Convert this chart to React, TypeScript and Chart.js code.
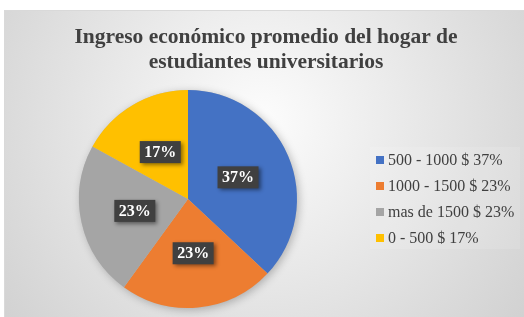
import React, { useEffect, useRef } from "react";
import { Chart, registerables } from "chart.js";

Chart.register(...registerables);

const titleLines = ["Ingreso económico promedio del hogar de", "estudiantes universitarios"];
const categories = ["500 - 1000 $", "1000 - 1500 $", "mas de 1500 $", "0 - 500 $"];
const values = [37, 23, 23, 17];
const colors = ["#4472C4", "#ED7D31", "#A5A5A5", "#FFC000"];

const SERIF = '"Liberation Serif", "Times New Roman", serif';

const decorPlugin = {
  id: "decor",
  beforeDraw(chart: any) {
    const ctx = chart.ctx as CanvasRenderingContext2D;
    const w = chart.width;
    const h = chart.height;
    ctx.save();
    ctx.fillStyle = "#ffffff";
    ctx.fillRect(0, 0, w, h);
    const g = ctx.createRadialGradient(262, 120, 10, 262, 120, 360);
    g.addColorStop(0, "#fbfbfb");
    g.addColorStop(1, "#cdcdcd");
    ctx.fillStyle = g;
    ctx.fillRect(4, 10, w - 4, h - 10);
    ctx.strokeStyle = "#d9d9d9";
    ctx.lineWidth = 1;
    ctx.strokeRect(4.5, 10.5, w - 4, h - 10);
    // title
    ctx.fillStyle = "#404040";
    ctx.font = `bold 21.5px ${SERIF}`;
    ctx.textAlign = "center";
    ctx.textBaseline = "middle";
    ctx.fillText(titleLines[0], 266, 37);
    ctx.fillText(titleLines[1], 266, 62);
    // legend
    const lx = 376;
    const ly0 = 160;
    const step = 26;
    ctx.fillStyle = "rgba(255,255,255,0.12)";
    ctx.fillRect(370, 147, 150, 102);
    ctx.font = `16px ${SERIF}`;
    ctx.textAlign = "left";
    const total = values.reduce((a, b) => a + b, 0);
    categories.forEach((c, i) => {
      const y = ly0 + i * step;
      ctx.fillStyle = colors[i];
      ctx.fillRect(lx, y - 4, 8, 8);
      ctx.fillStyle = "#404040";
      ctx.fillText(`${c} ${Math.round((values[i] / total) * 100)}%`, lx + 12, y + 1);
    });
    ctx.restore();
  },
  beforeDatasetsDraw(chart: any) {
    const ctx = chart.ctx as CanvasRenderingContext2D;
    ctx.save();
    ctx.shadowColor = "rgba(0,0,0,0.25)";
    ctx.shadowBlur = 8;
    ctx.shadowOffsetX = 2;
    ctx.shadowOffsetY = 2;
    const meta = chart.getDatasetMeta(0);
    const arc = meta.data[0];
    if (arc) {
      ctx.fillStyle = "#bbbbbb";
      ctx.beginPath();
      ctx.arc(arc.x, arc.y, arc.outerRadius, 0, Math.PI * 2);
      ctx.fill();
    }
    ctx.restore();
  },
  afterDatasetsDraw(chart: any) {
    const ctx = chart.ctx as CanvasRenderingContext2D;
    const meta = chart.getDatasetMeta(0);
    const total = values.reduce((a, b) => a + b, 0);
    ctx.save();
    ctx.font = `bold 16px ${SERIF}`;
    ctx.textAlign = "center";
    ctx.textBaseline = "middle";
    meta.data.forEach((arc: any, i: number) => {
      const mid = (arc.startAngle + arc.endAngle) / 2;
      const r = arc.outerRadius * 0.5;
      const x = arc.x + Math.cos(mid) * r;
      const y = arc.y + Math.sin(mid) * r;
      const txt = `${Math.round((values[i] / total) * 100)}%`;
      const tw = ctx.measureText(txt).width;
      const bw = tw + 9;
      const bh = 22;
      ctx.save();
      ctx.shadowColor = "rgba(0,0,0,0.45)";
      ctx.shadowBlur = 4;
      ctx.shadowOffsetX = 2;
      ctx.shadowOffsetY = 2;
      ctx.fillStyle = "#404040";
      ctx.fillRect(x - bw / 2, y - bh / 2, bw, bh);
      ctx.restore();
      ctx.fillStyle = "#ffffff";
      ctx.fillText(txt, x, y + 1);
    });
    ctx.restore();
  },
};

export default function App() {
  const ref = useRef<HTMLCanvasElement>(null);
  useEffect(() => {
    if (!ref.current) return;
    const chart = new Chart(ref.current, {
      type: "pie",
      data: {
        labels: categories,
        datasets: [
          {
            data: values,
            backgroundColor: colors,
            borderWidth: 0,
          },
        ],
      },
      options: {
        responsive: false,
        animation: false,
        layout: { padding: { left: 79, right: 227, top: 90, bottom: 9 } },
        plugins: {
          legend: { display: false },
          title: { display: false },
          tooltip: { enabled: false },
        },
      },
      plugins: [decorPlugin],
    });
    return () => chart.destroy();
  }, []);
  return (
    <div style={{ position: "fixed", left: 0, top: 0, width: 524, height: 317 }}>
      <canvas ref={ref} width={524} height={317} style={{ display: "block" }} />
    </div>
  );
}
